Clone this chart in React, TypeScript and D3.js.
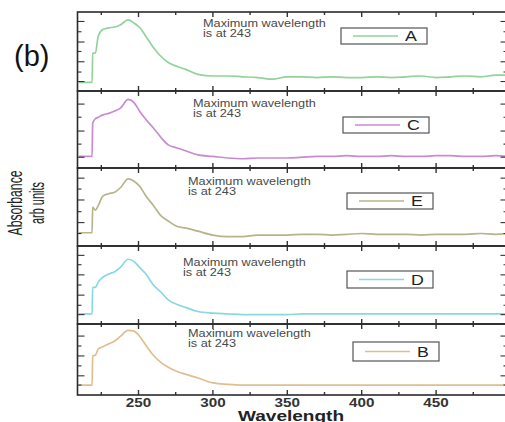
import React, { useRef, useEffect } from 'react';
import * as d3 from 'd3';

// shared wavelength grid (nm)
const wavelengths = [210, 218.8, 219.2, 221, 223, 226, 230, 234, 238, 243, 247, 251, 255, 260, 265, 270, 276, 282, 290, 300, 310, 320, 330, 340, 350, 360, 370, 380, 390, 400, 410, 420, 430, 440, 450, 460, 470, 480, 490, 500];

// absorbance (arb units), top to bottom
const seriesA = [0.11, 0.11, 0.48, 0.48, 0.70, 0.78, 0.80, 0.81, 0.84, 0.90, 0.86, 0.80, 0.69, 0.55, 0.44, 0.36, 0.31, 0.27, 0.21, 0.19, 0.19, 0.18, 0.17, 0.15, 0.18, 0.18, 0.17, 0.18, 0.17, 0.17, 0.18, 0.17, 0.18, 0.19, 0.17, 0.18, 0.19, 0.18, 0.20, 0.20];
const seriesC = [0.15, 0.15, 0.58, 0.64, 0.66, 0.69, 0.71, 0.74, 0.78, 0.89, 0.85, 0.73, 0.63, 0.52, 0.40, 0.30, 0.26, 0.22, 0.17, 0.15, 0.13, 0.12, 0.13, 0.13, 0.13, 0.14, 0.15, 0.15, 0.16, 0.15, 0.15, 0.16, 0.15, 0.15, 0.16, 0.16, 0.15, 0.15, 0.16, 0.15];
const seriesE = [0.17, 0.17, 0.50, 0.46, 0.52, 0.64, 0.67, 0.69, 0.75, 0.86, 0.83, 0.76, 0.64, 0.52, 0.39, 0.32, 0.25, 0.23, 0.19, 0.14, 0.12, 0.12, 0.14, 0.14, 0.14, 0.15, 0.15, 0.14, 0.15, 0.16, 0.15, 0.15, 0.15, 0.14, 0.15, 0.15, 0.15, 0.16, 0.15, 0.16];
const seriesD = [0.13, 0.13, 0.47, 0.47, 0.54, 0.60, 0.64, 0.67, 0.73, 0.83, 0.80, 0.72, 0.64, 0.50, 0.41, 0.31, 0.25, 0.21, 0.16, 0.14, 0.13, 0.12, 0.12, 0.12, 0.12, 0.13, 0.13, 0.13, 0.13, 0.13, 0.13, 0.13, 0.13, 0.13, 0.13, 0.13, 0.13, 0.13, 0.13, 0.13];
const seriesB = [0.14, 0.14, 0.55, 0.56, 0.65, 0.68, 0.72, 0.76, 0.83, 0.91, 0.90, 0.82, 0.70, 0.56, 0.46, 0.39, 0.33, 0.29, 0.24, 0.17, 0.15, 0.14, 0.14, 0.14, 0.14, 0.14, 0.14, 0.14, 0.14, 0.14, 0.14, 0.14, 0.14, 0.14, 0.14, 0.14, 0.14, 0.14, 0.14, 0.14];

const seriesNames = ['A', 'C', 'E', 'D', 'B'];
const seriesColors = ['#93d39b', '#c98bd0', '#b6b48a', '#86d9e2', '#dfbe90'];

const xTicks = [250, 300, 350, 400, 450];
const xMinorTicks = [225, 275, 325, 375, 425, 475];

// left/right tick positions per panel (arb units, top to bottom)
const yTicksA = [0.88, 0.75, 0.62, 0.50, 0.37, 0.24, 0.12];
const yTicksC = [0.83, 0.66, 0.48, 0.31, 0.14];
const yTicksE = [0.87, 0.73, 0.59, 0.44, 0.30, 0.16];
const yTicksD = [0.88, 0.76, 0.63, 0.50, 0.37, 0.24, 0.12];
const yTicksB = [0.83, 0.69, 0.55, 0.41, 0.27, 0.14];

const noteLines = ['Maximum wavelength', 'is at 243'];

const App = () => {
    const svgRef = useRef<SVGSVGElement>(null);

    useEffect(() => {
        document.body.style.margin = '0';
        const svg = d3.select(svgRef.current);
        svg.selectAll('*').remove();

        const width = 505;
        const height = 422;
        const left = 77.5;
        const right = 507.5;
        const tops = [12, 91, 168, 246, 324];
        const bottom = 395;
        const stretch = 1.27; // the original figure is horizontally stretched

        const allSeries = [seriesA, seriesC, seriesE, seriesD, seriesB];
        const allTicks = [yTicksA, yTicksC, yTicksE, yTicksD, yTicksB];
        const notePos = [[203, 15], [193, 16], [188, 17], [183, 20], [188, 13]];
        const legendPos = [[341, 16], [343, 26], [347, 25], [347, 25], [353, 18]];
        const legendH = [16, 16, 16, 17, 19];

        svg.attr('width', width).attr('height', height);

        const x = d3.scaleLinear().domain([209, 498]).range([left, right]);

        svg.append('defs').append('clipPath').attr('id', 'plotclip')
            .append('rect').attr('x', left).attr('y', tops[0])
            .attr('width', right - left).attr('height', bottom - tops[0]);

        allSeries.forEach((values, i) => {
            const top = tops[i];
            const bot = i < 4 ? tops[i + 1] : bottom;
            const y = d3.scaleLinear().domain([0, 1]).range([bot, top]);
            const g = svg.append('g');

            // spectrum
            const line = d3.line<number>()
                .x((_, j) => x(wavelengths[j]))
                .y(d => y(d))
                .curve(d3.curveMonotoneX);
            g.append('path')
                .datum(values)
                .attr('clip-path', 'url(#plotclip)')
                .attr('fill', 'none')
                .attr('stroke', seriesColors[i])
                .attr('stroke-width', 1.7)
                .attr('d', line);

            // x ticks, inward on top and bottom edges
            const xt = [...xTicks.map(v => ({ v, len: 5 })), ...xMinorTicks.map(v => ({ v, len: 3 }))];
            xt.forEach(t => {
                g.append('line').attr('x1', x(t.v)).attr('x2', x(t.v))
                    .attr('y1', top).attr('y2', top + t.len)
                    .attr('stroke', '#333').attr('stroke-width', 1.4);
                g.append('line').attr('x1', x(t.v)).attr('x2', x(t.v))
                    .attr('y1', bot).attr('y2', bot - t.len)
                    .attr('stroke', '#333').attr('stroke-width', 1.4);
            });

            // y ticks, inward on left and right edges
            allTicks[i].forEach((v, k) => {
                const len = k % 2 === 0 ? 7 : 4;
                g.append('line').attr('x1', left).attr('x2', left + len)
                    .attr('y1', y(v)).attr('y2', y(v))
                    .attr('stroke', '#333').attr('stroke-width', 1.1);
                g.append('line').attr('x1', right).attr('x2', right - len)
                    .attr('y1', y(v)).attr('y2', y(v))
                    .attr('stroke', '#333').attr('stroke-width', 1.1);
            });

            // frame
            g.append('rect').attr('x', left).attr('y', top)
                .attr('width', right - left).attr('height', bot - top)
                .attr('fill', 'none').attr('stroke', '#2a2a2a').attr('stroke-width', 1.6);

            // annotation
            const [nx, ny] = notePos[i];
            noteLines.forEach((txt, k) => {
                g.append('text')
                    .attr('transform', `translate(${nx},${top + ny + k * 9.5}) scale(${stretch},1)`)
                    .style('font-family', 'Liberation Sans, Arial, sans-serif')
                    .style('font-size', '10px')
                    .style('fill', '#4a4a4a')
                    .text(txt);
            });

            // legend box
            const [lx, ly] = legendPos[i];
            const lh = legendH[i];
            g.append('rect').attr('x', lx).attr('y', top + ly)
                .attr('width', 86).attr('height', lh)
                .attr('fill', 'white').attr('stroke', '#555').attr('stroke-width', 1.2);
            g.append('line').attr('x1', lx + 12).attr('x2', lx + 57)
                .attr('y1', top + ly + lh / 2).attr('y2', top + ly + lh / 2)
                .attr('stroke', seriesColors[i]).attr('stroke-width', 1.4);
            g.append('text')
                .attr('transform', `translate(${lx + 64},${top + ly + lh / 2 + 5}) scale(${stretch},1)`)
                .style('font-family', 'Liberation Sans, Arial, sans-serif')
                .style('font-size', '14px')
                .style('fill', '#222')
                .text(seriesNames[i]);
        });

        // x tick labels
        xTicks.forEach(v => {
            svg.append('text')
                .attr('transform', `translate(${x(v)},407) scale(${stretch},1)`)
                .attr('text-anchor', 'middle')
                .style('font-family', 'Liberation Sans, Arial, sans-serif')
                .style('font-size', '12px')
                .style('font-weight', 'bold')
                .style('fill', '#333')
                .text(v);
        });

        // axis titles
        svg.append('text')
            .attr('transform', `translate(291,421) scale(${stretch},1)`)
            .attr('text-anchor', 'middle')
            .style('font-family', 'Liberation Sans, Arial, sans-serif')
            .style('font-size', '15px')
            .style('font-weight', 'bold')
            .style('fill', '#222')
            .text('Wavelength');

        [['Absorbance', 22, 65], ['arb units', 44, 42]].forEach(([txt, cx, len]) => {
            svg.append('text')
                .attr('transform', `translate(${cx},203) scale(${stretch},1) rotate(-90)`)
                .attr('x', -(len as number) / 2)
                .attr('textLength', len as number)
                .attr('lengthAdjust', 'spacingAndGlyphs')
                .style('font-family', 'Liberation Sans Narrow, Arial Narrow, sans-serif')
                .style('font-size', '16px')
                .style('fill', '#222')
                .text(txt as string);
        });

        svg.append('text')
            .attr('x', 14).attr('y', 66)
            .style('font-family', 'Liberation Sans, Arial, sans-serif')
            .style('font-size', '29px')
            .style('fill', '#111')
            .text('(b)');
    }, []);

    return (
        <div style={{ width: 505, height: 422, overflow: 'hidden' }}>
            <svg ref={svgRef} style={{ display: 'block' }}></svg>
        </div>
    );
};

export default App;
